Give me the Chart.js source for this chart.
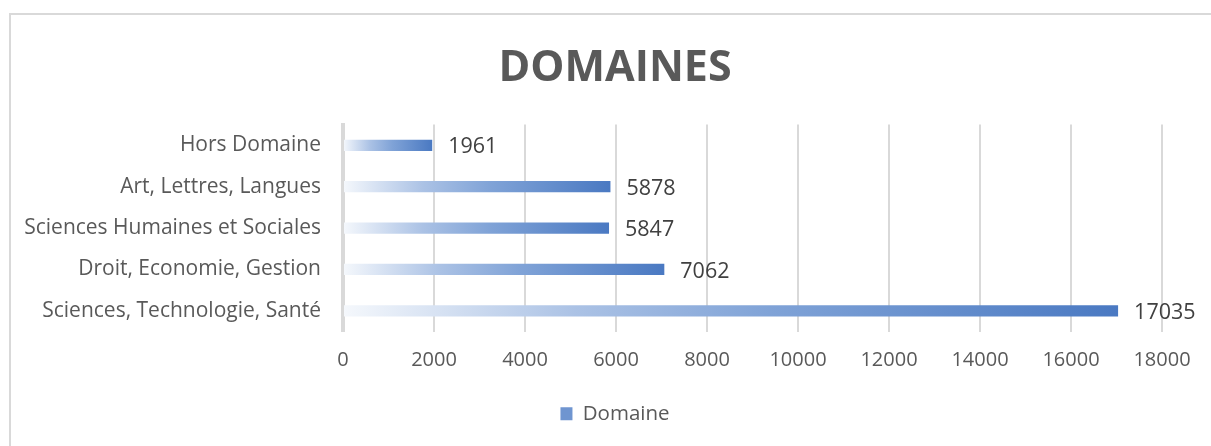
<!DOCTYPE html>
<html>
<head>
<meta charset="utf-8">
<script src="https://cdn.jsdelivr.net/npm/chart.js@4/dist/chart.umd.min.js"></script>
<style>
    html, body { margin: 0; padding: 0; background: #fff; overflow: hidden; }
    #frame {
        position: absolute; left: 9px; top: 13px; width: 1300px; height: 600px;
        border: 2px solid #d9d9d9; box-sizing: border-box;
    }
    #wrap { position: absolute; left: 0; top: 0; width: 1211px; height: 446px; }
</style>
</head>
<body>
<div id="frame"></div>
<div id="wrap"><canvas id="chart" width="1211" height="446"></canvas></div>
<script>
'use strict';

const categories = [
    'Hors Domaine',
    'Art, Lettres, Langues',
    'Sciences Humaines et Sociales',
    'Droit, Economie, Gestion',
    'Sciences, Technologie, Santé'
];
const domaineValues = [1961, 5878, 5847, 7062, 17035];
const xTicks = [0, 2000, 4000, 6000, 8000, 10000, 12000, 14000, 16000, 18000];

const textColor = '#595959';
const fontName = '"Open Sans", "Liberation Sans", sans-serif';

function barGradient(context) {
    const chart = context.chart;
    const xScale = chart.scales.x;
    if (!chart.chartArea || !xScale || context.parsed === undefined) {
        return '#6f95d0';
    }
    const x0 = xScale.getPixelForValue(0);
    const x1 = xScale.getPixelForValue(context.parsed.x);
    if (!isFinite(x0) || !isFinite(x1) || x1 - x0 < 1) {
        return '#6f95d0';
    }
    const g = chart.ctx.createLinearGradient(x0, 0, x1, 0);
    g.addColorStop(0, '#f5f8fc');
    g.addColorStop(0.3, '#abc2e5');
    g.addColorStop(0.55, '#80a3d7');
    g.addColorStop(1, '#4a79c2');
    return g;
}

// value labels right of each bar
const valueLabels = {
    id: 'valueLabels',
    afterDatasetsDraw(chart) {
        const ctx = chart.ctx;
        const meta = chart.getDatasetMeta(0);
        ctx.save();
        ctx.font = '21.5px ' + fontName;
        ctx.fillStyle = '#404040';
        ctx.textAlign = 'left';
        ctx.textBaseline = 'middle';
        meta.data.forEach((bar, i) => {
            ctx.fillText(String(domaineValues[i]), bar.x + 16, bar.y + 2);
        });
        ctx.restore();
    }
};

const chart = new Chart(document.getElementById('chart'), {
    type: 'bar',
    data: {
        labels: categories,
        datasets: [
            {
                label: 'Domaine',
                data: domaineValues,
                backgroundColor: barGradient,
                borderWidth: 0,
                barPercentage: 0.27,
                categoryPercentage: 1.0
            }
        ]
    },
    options: {
        responsive: false,
        animation: false,
        indexAxis: 'y',
        layout: { padding: { left: 19, right: 0, top: 0, bottom: 12 } },
        scales: {
            x: {
                min: 0,
                max: 18000,
                afterBuildTicks: (scale) => {
                    scale.ticks = xTicks.map(v => ({ value: v }));
                },
                afterFit: (scale) => {
                    scale.height = 62;
                    scale.paddingRight = 49; // room for the 17035 label
                },
                grid: { color: '#d9d9d9', lineWidth: 2, drawTicks: false },
                border: { display: false },
                ticks: {
                    color: textColor,
                    font: { family: fontName, size: 20 },
                    padding: 17,
                    callback: (value) => String(value)
                }
            },
            y: {
                afterFit: (scale) => { scale.width = 324; },
                grid: { display: false, drawTicks: false },
                border: { display: true, color: '#d9d9d9', width: 4 },
                ticks: {
                    color: textColor,
                    font: { family: fontName, size: 21 },
                    padding: 22
                }
            }
        },
        plugins: {
            title: {
                display: true,
                text: 'DOMAINES',
                color: textColor,
                font: { family: fontName, size: 43, weight: 'bold' },
                padding: { top: 43, bottom: 30 }
            },
            legend: {
                position: 'bottom',
                labels: {
                    color: textColor,
                    font: { family: fontName, size: 20.5 },
                    boxWidth: 12,
                    boxHeight: 13,
                    padding: 10,
                    generateLabels: (chart) => [{
                        text: 'Domaine',
                        fillStyle: '#6f95d0',
                        strokeStyle: '#6f95d0',
                        lineWidth: 0,
                        fontColor: textColor,
                        datasetIndex: 0
                    }]
                }
            },
            tooltip: { enabled: false }
        }
    },
    plugins: [valueLabels]
});
</script>
</body>
</html>
